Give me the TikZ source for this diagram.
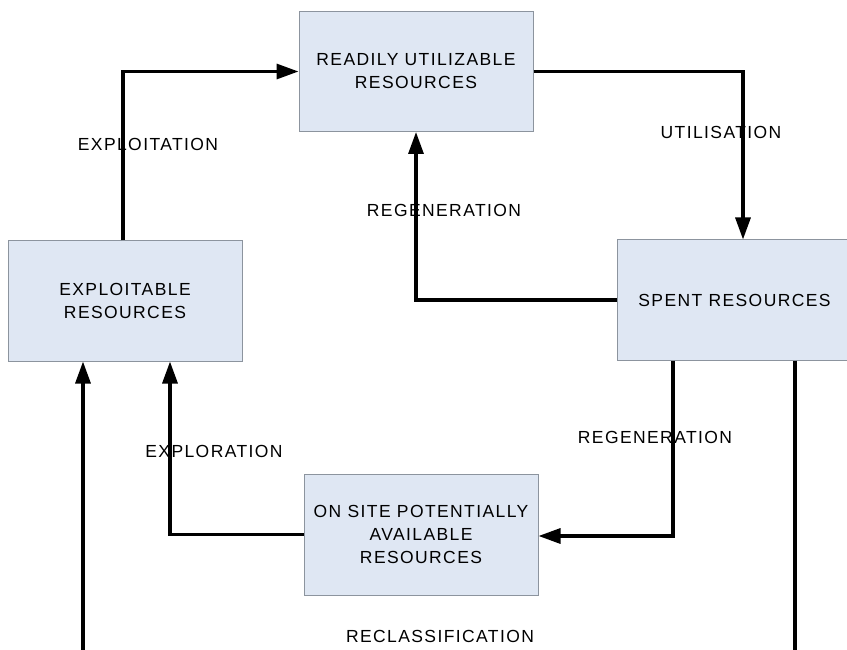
\documentclass[tikz,border=0pt]{standalone}
\usepackage{fontspec}
\setmainfont[LetterSpace=8]{Liberation Sans}
\usetikzlibrary{arrows.meta}
\definecolor{boxfill}{HTML}{DFE7F3}
\definecolor{boxline}{HTML}{8C949E}
\tikzset{
  resbox/.style={draw=boxline, line width=1pt, fill=boxfill, minimum width=234pt, minimum height=120pt, align=center, font=\fontsize{17.5}{23}\selectfont, inner sep=0pt},
  lbl/.style={font=\fontsize{17.5}{23}\selectfont, inner sep=0pt},
  conn/.style={line width=3.2pt, -{Triangle[length=22pt,width=15pt]}}
}
\begin{document}
\begin{tikzpicture}[x=1pt,y=-1pt]
\useasboundingbox (0,0) rectangle (847,650);
\clip (0,0) rectangle (847,650);
\node[resbox] (ru) at (416,71.5) {READILY UTILIZABLE\\RESOURCES};
\node[resbox, minimum width=235pt] (sp) at (734.5,300) {SPENT RESOURCES};
\node[resbox] (ex) at (125,301) {EXPLOITABLE\\RESOURCES};
\node[resbox, minimum height=121pt] (os) at (421,534.5) {ON SITE POTENTIALLY\\AVAILABLE\\RESOURCES};
\node[lbl] (l1) at (148,144) {EXPLOITATION};
\node[lbl] (l2) at (721,132) {UTILISATION};
\node[lbl] (l3) at (444,210) {REGENERATION};
\node[lbl] (l4) at (655,437) {REGENERATION};
\node[lbl] (l5) at (214,451) {EXPLORATION};
\node[lbl] (l6) at (440,636) {RECLASSIFICATION};
\draw[conn] ([xshift=-2pt]ex.north) |- (ru.west);
\draw[conn] (ru.east) -| ([xshift=8.5pt]sp.north);
\draw[conn] (sp.west) -| (ru.south);
\draw[conn] ([xshift=-61.5pt]sp.south) |- ([yshift=-1.5pt]os.east);
\draw[conn] (os.west) -| ([xshift=45pt]ex.south);
\coordinate (rc1) at (795,651.3);
\coordinate (rc2) at (83,651.3);
\draw[conn] ([xshift=60.5pt]sp.south) -- (rc1) -- (rc2) -- ([xshift=-42pt]ex.south);
\end{tikzpicture}
\end{document}
